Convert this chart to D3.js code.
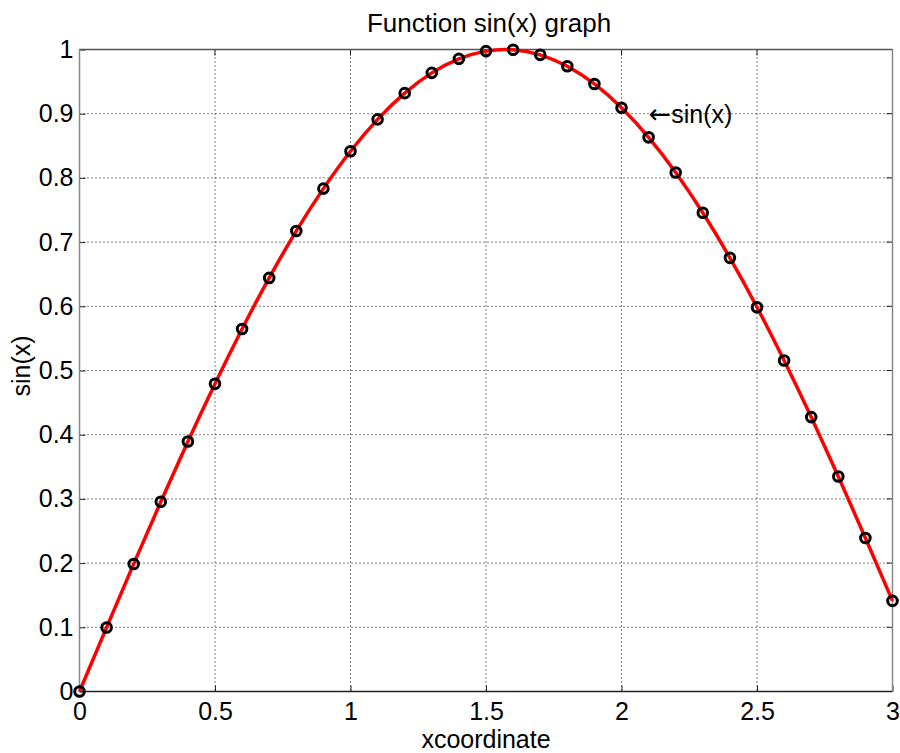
<!DOCTYPE html>
<html>
<head>
<meta charset="utf-8">
<script src="https://cdn.jsdelivr.net/npm/d3@7"></script>
<style>
  body { margin: 0; background: #fff; }
  text { font-family: "Liberation Sans", Arial, sans-serif; fill: #000; }
</style>
</head>
<body>
<div id="chart"></div>
<script>
// values
const xValues = [0, 0.1, 0.2, 0.3, 0.4, 0.5, 0.6, 0.7, 0.8, 0.9, 1.0,
  1.1, 1.2, 1.3, 1.4, 1.5, 1.6, 1.7, 1.8, 1.9, 2.0,
  2.1, 2.2, 2.3, 2.4, 2.5, 2.6, 2.7, 2.8, 2.9, 3.0];
const yValues = [0, 0.0998, 0.1987, 0.2955, 0.3894, 0.4794, 0.5646, 0.6442, 0.7174, 0.7833, 0.8415,
  0.8912, 0.9320, 0.9636, 0.9854, 0.9975, 0.9996, 0.9917, 0.9738, 0.9463, 0.9093,
  0.8632, 0.8085, 0.7457, 0.6755, 0.5985, 0.5155, 0.4274, 0.3350, 0.2392, 0.1411];
const xTicks = [0, 0.5, 1, 1.5, 2, 2.5, 3];
const yTicks = [0, 0.1, 0.2, 0.3, 0.4, 0.5, 0.6, 0.7, 0.8, 0.9, 1];

const width = 900, height = 753;
const mLeft = 79.5, mRight = 892.5, mTop = 49.5, mBottom = 691.5;

const svg = d3.select("#chart").append("svg")
    .attr("width", width)
    .attr("height", height);

const x = d3.scaleLinear().domain([0, 3]).range([mLeft, mRight]);
const y = d3.scaleLinear().domain([0, 1]).range([mBottom, mTop]);

// grid
svg.append("g").selectAll("line")
    .data(xTicks.slice(1, -1))
    .join("line")
    .attr("x1", d => x(d)).attr("x2", d => x(d))
    .attr("y1", mTop).attr("y2", mBottom)
    .attr("stroke", "#000").attr("stroke-width", 1)
    .attr("stroke-dasharray", "1,3");
svg.append("g").selectAll("line")
    .data(yTicks.slice(1, -1))
    .join("line")
    .attr("x1", mLeft).attr("x2", mRight)
    .attr("y1", d => y(d)).attr("y2", d => y(d))
    .attr("stroke", "#000").attr("stroke-width", 1)
    .attr("stroke-dasharray", "1,3");

// axes
const xAxis = d3.axisBottom(x).tickValues(xTicks).tickSize(-6).tickPadding(11)
    .tickFormat(d3.format("~g"));
const yAxis = d3.axisLeft(y).tickValues(yTicks).tickSize(-6).tickPadding(6)
    .tickFormat(d3.format("~g"));

const gx = svg.append("g").attr("transform", `translate(0,${mBottom})`).call(xAxis);
const gy = svg.append("g").attr("transform", `translate(${mLeft},0)`).call(yAxis);
[gx, gy].forEach(g => {
  g.select(".domain").remove();
  g.selectAll(".tick line").attr("stroke", "#222");
  g.selectAll("text").style("font-size", "25px")
      .style("font-family", "'Liberation Sans', Arial, sans-serif");
});

// top/right ticks
svg.append("g").selectAll("line").data(xTicks).join("line")
    .attr("x1", d => x(d)).attr("x2", d => x(d))
    .attr("y1", mTop).attr("y2", mTop + 6).attr("stroke", "#222");
svg.append("g").selectAll("line").data(yTicks).join("line")
    .attr("x1", mRight - 6).attr("x2", mRight)
    .attr("y1", d => y(d)).attr("y2", d => y(d)).attr("stroke", "#222");

// box
svg.append("line").attr("x1", mLeft).attr("x2", mRight).attr("y1", mBottom).attr("y2", mBottom)
    .attr("stroke", "#222").attr("stroke-width", 1.5);
svg.append("line").attr("x1", mLeft).attr("x2", mRight).attr("y1", mTop).attr("y2", mTop)
    .attr("stroke", "#555").attr("stroke-width", 1.5);
svg.append("line").attr("x1", mLeft).attr("x2", mLeft).attr("y1", mTop).attr("y2", mBottom)
    .attr("stroke", "#888").attr("stroke-width", 1.5);
svg.append("line").attr("x1", mRight).attr("x2", mRight).attr("y1", mTop).attr("y2", mBottom)
    .attr("stroke", "#888").attr("stroke-width", 1.5);

// data
const points = xValues.map((d, i) => ({ x: d, y: yValues[i] }));

const line = d3.line().x(d => x(d.x)).y(d => y(d.y)).curve(d3.curveNatural);
svg.append("path")
    .datum(points)
    .attr("d", line)
    .attr("fill", "none")
    .attr("stroke", "#ff0000")
    .attr("stroke-width", 3.5);

svg.append("g").selectAll("circle")
    .data(points)
    .join("circle")
    .attr("cx", d => x(d.x))
    .attr("cy", d => y(d.y))
    .attr("r", 4.8)
    .attr("fill", "none")
    .attr("stroke", "#000")
    .attr("stroke-width", 3);

// annotation
const note = svg.append("text")
    .attr("x", x(2.1))
    .attr("y", y(0.89))
    .attr("dy", "0.12em")
    .style("font-size", "25px");
note.append("tspan")
    .style("font-family", "'DejaVu Sans', sans-serif")
    .style("font-size", "27px")
    .text("\u2190");
note.append("tspan").text("sin(x)");

// title and labels
svg.append("text")
    .attr("x", (mLeft + mRight) / 2 + 3)
    .attr("y", 32)
    .attr("text-anchor", "middle")
    .style("font-size", "26px")
    .text("Function sin(x) graph");

svg.append("text")
    .attr("x", (mLeft + mRight) / 2)
    .attr("y", 748)
    .attr("text-anchor", "middle")
    .style("font-size", "25px")
    .text("xcoordinate");

svg.append("text")
    .attr("transform", "translate(30,366) rotate(-90)")
    .attr("text-anchor", "middle")
    .style("font-size", "25px")
    .text("sin(x)");
</script>
</body>
</html>
